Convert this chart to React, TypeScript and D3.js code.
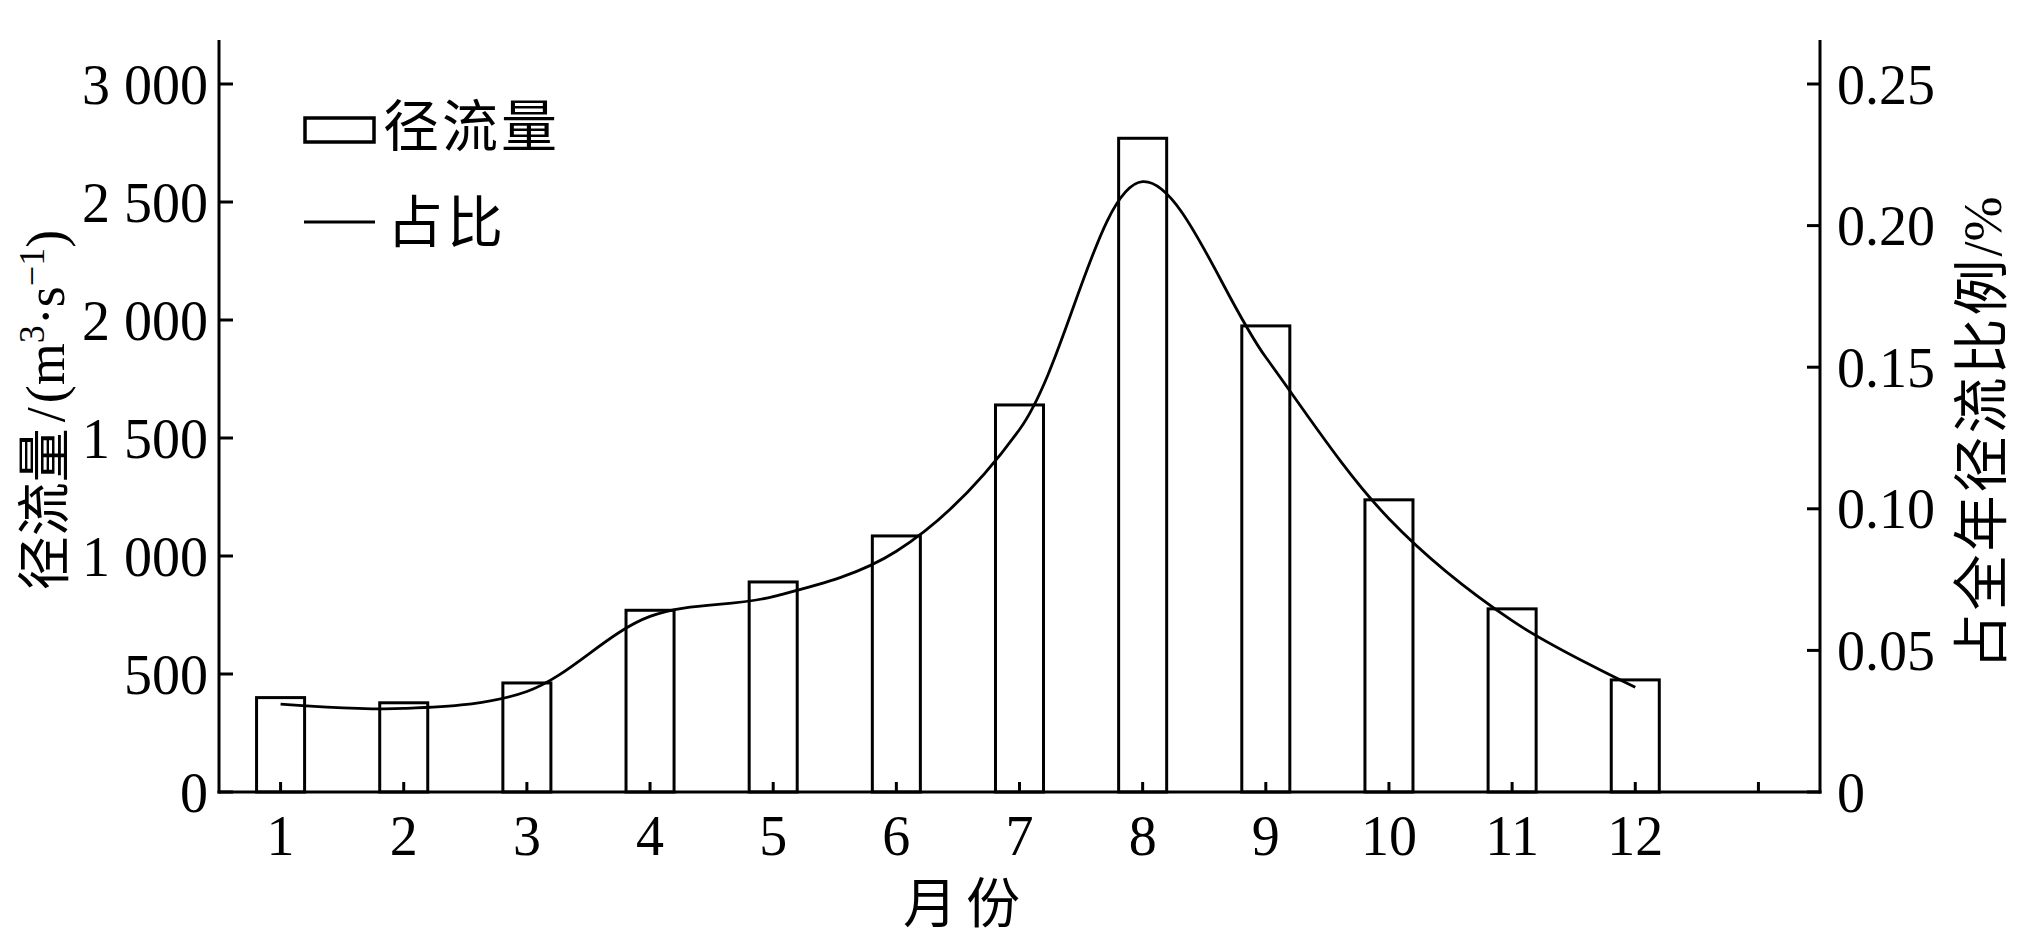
import React, { useEffect } from "react";
import * as d3 from "d3";

const months = [1, 2, 3, 4, 5, 6, 7, 8, 9, 10, 11, 12];
const runoff = [400, 378, 462, 770, 890, 1085, 1640, 2770, 1975, 1238, 776, 475];
const share = [0.031, 0.0295, 0.0355, 0.062, 0.069, 0.085, 0.128, 0.2155, 0.1535, 0.0965, 0.0605, 0.037];
const xTicks = [1, 2, 3, 4, 5, 6, 7, 8, 9, 10, 11, 12, 13];
const xTickLabels = ["1", "2", "3", "4", "5", "6", "7", "8", "9", "10", "11", "12", ""];
const leftTicks = [0, 500, 1000, 1500, 2000, 2500, 3000];
const leftTickLabels = ["0", "500", "1 000", "1 500", "2 000", "2 500", "3 000"];
const rightTicks = [0, 0.05, 0.1, 0.15, 0.2, 0.25];
const rightTickLabels = ["0", "0.05", "0.10", "0.15", "0.20", "0.25"];

const W = 2020;
const H = 943;
const L = 219;
const R = 1820;
const B = 792;
const T = 84;
const AXIS_TOP = 40;
const FONT = "'Liberation Serif', 'Times New Roman', 'Noto Sans CJK SC', serif";
const CJK = "'Noto Sans CJK SC', 'Liberation Serif', serif";

export default function App() {
  useEffect(() => {
    document.body.style.margin = "0";
  }, []);

  const x = d3.scaleLinear().domain([0.5, 13.5]).range([L, R]);
  const yL = d3.scaleLinear().domain([0, 3000]).range([B, T]);
  const yR = d3.scaleLinear().domain([0, 0.25]).range([B, T]);
  const step = x(2) - x(1);
  const bw = step * 0.39;

  const line = d3
    .line<number>()
    .x((_, i) => x(months[i]))
    .y((d) => yR(d))
    .curve(d3.curveCatmullRom.alpha(0.5));

  return (
    <svg width={W} height={H} style={{ position: "absolute", left: 0, top: 0, background: "#fff" }}>
      <rect x={0} y={0} width={W} height={H} fill="#fff" />
      {/* bars */}
      {runoff.map((v, i) => (
        <rect
          key={i}
          x={x(months[i]) - bw / 2}
          y={yL(v)}
          width={bw}
          height={B - yL(v)}
          fill="#fff"
          stroke="#000"
          strokeWidth={3}
        />
      ))}
      {/* line */}
      <path d={line(share) || ""} fill="none" stroke="#000" strokeWidth={2.8} />

      {/* axes */}
      <line x1={L} x2={L} y1={AXIS_TOP} y2={B + 1.5} stroke="#000" strokeWidth={3} />
      <line x1={R} x2={R} y1={AXIS_TOP} y2={B + 1.5} stroke="#000" strokeWidth={3} />
      <line x1={L - 1.5} x2={R + 1.5} y1={B} y2={B} stroke="#000" strokeWidth={3} />

      {/* left ticks */}
      {leftTicks.map((t, i) => (
        <g key={"l" + i}>
          <line x1={L} x2={L + 14} y1={yL(t)} y2={yL(t)} stroke="#000" strokeWidth={3} />
          <text
            x={208}
            y={yL(t)}
            dy="0.35em"
            textAnchor="end"
            fontFamily={FONT}
            fontSize={56}
            fill="#000"
          >
            {leftTickLabels[i]}
          </text>
        </g>
      ))}
      {/* right ticks */}
      {rightTicks.map((t, i) => (
        <g key={"r" + i}>
          <line x1={R - 13} x2={R} y1={yR(t)} y2={yR(t)} stroke="#000" strokeWidth={3} />
          <text
            x={1837}
            y={yR(t)}
            dy="0.35em"
            textAnchor="start"
            fontFamily={FONT}
            fontSize={56}
            fill="#000"
          >
            {rightTickLabels[i]}
          </text>
        </g>
      ))}
      {/* x ticks */}
      {xTicks.map((t, i) => (
        <g key={"x" + i}>
          <line x1={x(t)} x2={x(t)} y1={B} y2={B - 10} stroke="#000" strokeWidth={3} />
          <text x={x(t)} y={855} textAnchor="middle" fontFamily={FONT} fontSize={56} fill="#000">
            {xTickLabels[i]}
          </text>
        </g>
      ))}

      {/* x title */}
      <text x={966} y={923} textAnchor="middle" fontFamily={CJK} fontSize={54} letterSpacing={9} fill="#000">
        月份
      </text>

      {/* left y title */}
      <text
        transform={`translate(64, 410) rotate(-90)`}
        textAnchor="middle"
        fontFamily={FONT}
        fontSize={54}
        fill="#000"
      >
        <tspan fontFamily={CJK}>径流量</tspan>
        <tspan dx={6}>/</tspan>
        <tspan dx={4}>(m</tspan>
        <tspan fontSize={36} dy={-20}>3</tspan>
        <tspan dy={20}>·s</tspan>
        <tspan fontSize={36} dy={-20}>−1</tspan>
        <tspan dy={20}>)</tspan>
      </text>

      {/* right y title */}
      <text
        transform={`translate(2001, 433) rotate(-90)`}
        textAnchor="middle"
        fontFamily={CJK}
        fontSize={56}
        letterSpacing={3}
        fill="#000"
      >
        占全年径流比例
        <tspan fontFamily={FONT} fontSize={54} letterSpacing={0}>/%</tspan>
      </text>

      {/* legend */}
      <rect x={305} y={118} width={69} height={24} fill="#fff" stroke="#000" strokeWidth={3.5} />
      <text x={383} y={146} fontFamily={CJK} fontSize={56} letterSpacing={3} fill="#000">
        径流量
      </text>
      <line x1={304} x2={375} y1={222} y2={222} stroke="#000" strokeWidth={3} />
      <text x={387} y={242} fontFamily={CJK} fontSize={56} letterSpacing={4} fill="#000">
        占比
      </text>
    </svg>
  );
}
